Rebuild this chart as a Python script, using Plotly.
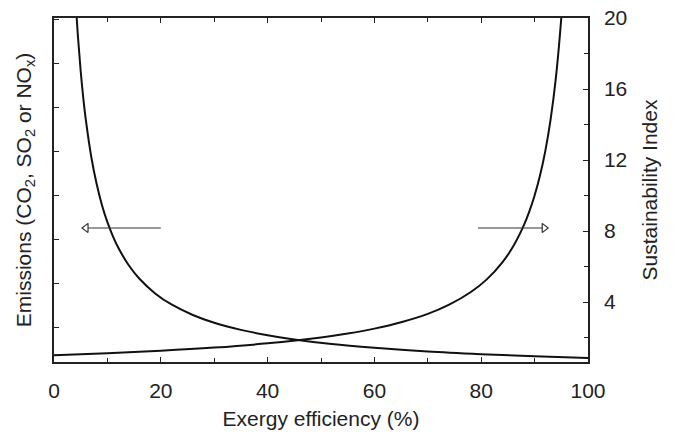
import plotly.graph_objects as go

# Sustainability index vs exergy efficiency
si_x = [0, 10, 20, 30, 40, 50, 55, 60, 65, 70, 74, 78, 81, 84, 86, 88, 89, 90, 91, 92, 93, 94, 95, 95.5]
si_y = [1.00, 1.11, 1.25, 1.43, 1.67, 2.00, 2.22, 2.50, 2.86, 3.33, 3.85, 4.55, 5.26, 6.25, 7.14,
        8.33, 9.09, 10.0, 11.11, 12.5, 14.29, 16.67, 20.0, 22.2]

# Emissions vs exergy efficiency
em_x = [4, 4.5, 5, 5.5, 6, 7, 8, 9, 10, 11, 12, 14, 16, 19, 22, 26, 30, 35, 40, 46, 52, 60, 70, 80, 90, 100]
em_y = [21.25, 18.89, 17.0, 15.45, 14.17, 12.14, 10.63, 9.44, 8.50, 7.73, 7.08, 6.07, 5.31, 4.47,
        3.86, 3.27, 2.83, 2.43, 2.13, 1.85, 1.63, 1.42, 1.21, 1.06, 0.94, 0.85]

# Right-axis tick labels
si_ticks = [4, 8, 12, 16, 20]

# Arrow annotations: (start x, end x) at arrow level
arrow_level = 8.17
left_arrow = [20, 6.0]
right_arrow = [79.4, 91.8]

font = "Liberation Sans, Arial, sans-serif"
fig = go.Figure()

# invisible trace so that the left axis is drawn
fig.add_trace(go.Scatter(x=[50], y=[3], mode="markers", marker=dict(opacity=0),
                         showlegend=False, hoverinfo="skip"))

fig.add_trace(go.Scatter(x=em_x, y=em_y, mode="lines", line=dict(color="#111", width=2, shape="spline"),
                         yaxis="y2", showlegend=False, hoverinfo="skip"))
fig.add_trace(go.Scatter(x=si_x, y=si_y, mode="lines", line=dict(color="#111", width=2, shape="spline"),
                         yaxis="y2", showlegend=False, hoverinfo="skip"))

for xs, sym in [(left_arrow, "triangle-left"), (right_arrow, "triangle-right")]:
    fig.add_trace(go.Scatter(x=xs, y=[arrow_level, arrow_level], mode="lines",
                             line=dict(color="#333", width=1.2), yaxis="y2",
                             showlegend=False, hoverinfo="skip"))
    fig.add_trace(go.Scatter(x=[xs[1]], y=[arrow_level], mode="markers",
                             marker=dict(symbol=sym, size=8, color="white",
                                         line=dict(color="#333", width=1.2)),
                             yaxis="y2", showlegend=False, hoverinfo="skip", cliponaxis=False))

axis_common = dict(showline=True, linecolor="#222", linewidth=1.5, ticks="inside",
                   tickcolor="#222", showgrid=False, zeroline=False, automargin=False,
                   ticklabeloverflow="allow")

fig.update_layout(
    width=660, height=422,
    margin=dict(l=46, r=80, t=10, b=68, pad=0),
    paper_bgcolor="white", plot_bgcolor="white",
    font=dict(family=font, size=21, color="#222"),
    xaxis=dict(range=[0, 100], dtick=20, tick0=0, ticklen=5, mirror="ticks",
               minor=dict(dtick=10, ticks="inside", ticklen=4, tickcolor="#222"),
               ticklabelstandoff=9,
               title=dict(text="Exergy efficiency (%)", font=dict(size=21), standoff=17),
               **axis_common),
    yaxis=dict(range=[-0.773, 7.045], tickvals=[0, 1, 2, 3, 4, 5, 6, 7], showticklabels=False,
               ticklen=5,
               title=dict(text="Emissions (CO<sub>2</sub>, SO<sub>2</sub> or NO<sub>x</sub>)",
                          font=dict(size=21), standoff=15),
               **axis_common),
    yaxis2=dict(range=[0.62, 20.0001], overlaying="y", side="right",
                tickvals=si_ticks, ticktext=[str(v) for v in si_ticks], ticklen=5,
                minor=dict(dtick=2, tick0=0, ticks="inside", ticklen=4, tickcolor="#222"),
                ticklabelstandoff=10,
                title=dict(text="Sustainability Index", font=dict(size=21), standoff=16),
                **axis_common),
)

fig.write_html("out.html")
